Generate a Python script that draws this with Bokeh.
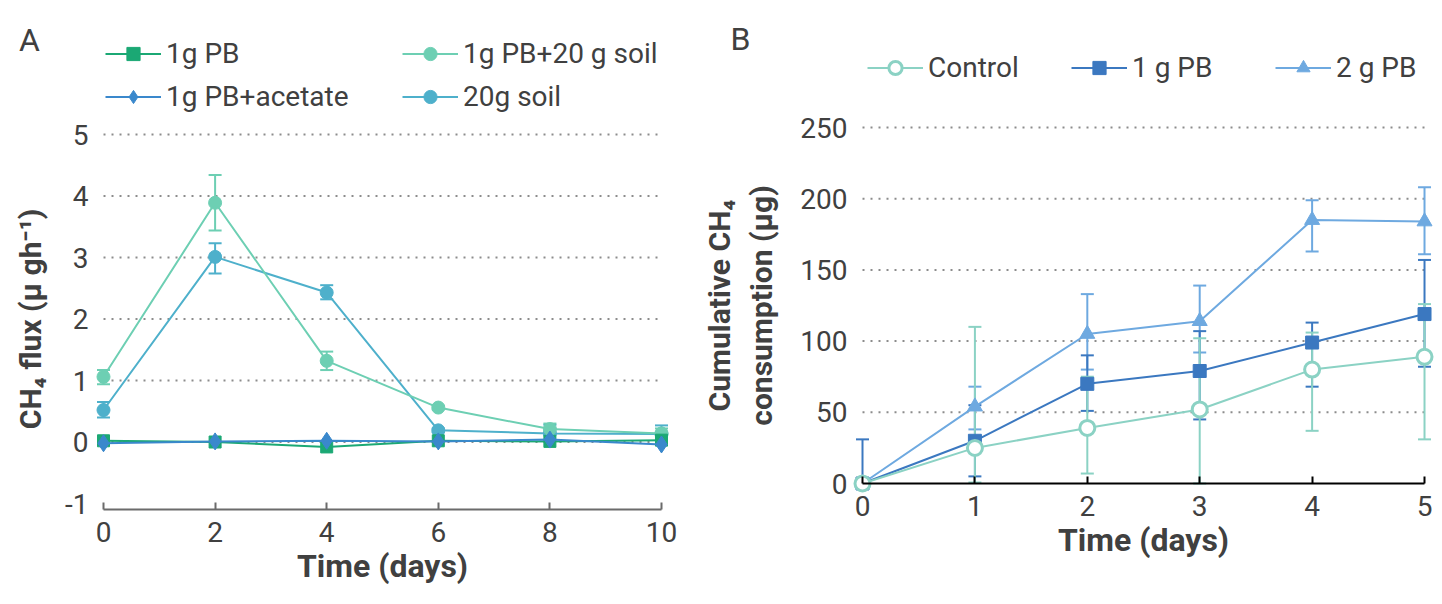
from bokeh.plotting import figure
from bokeh.models import (ColumnDataSource, Whisker, TeeHead, Legend, LegendItem,
                          Label, FixedTicker, Range1d)
from bokeh.layouts import row
from bokeh.embed import file_html
from bokeh.resources import INLINE

FONT = "Roboto"
TXT = "#404040"

# ---------------- Panel A data ----------------
days_a = [0, 2, 4, 6, 8, 10]
ticks_a_y = [-1, 0, 1, 2, 3, 4, 5]
grid_a = [0, 1, 2, 3, 4, 5]

pb1g = [0.02, 0.00, -0.08, 0.02, 0.01, 0.03]
pb1g_acetate = [-0.02, 0.01, 0.02, 0.01, 0.04, -0.04]
pb1g_soil = [1.06, 3.89, 1.32, 0.56, 0.21, 0.14]
pb1g_soil_lo = [0.94, 3.44, 1.17, 0.53, 0.12, 0.06]
pb1g_soil_hi = [1.17, 4.34, 1.47, 0.59, 0.30, 0.22]
soil20 = [0.52, 3.01, 2.43, 0.19, 0.14, 0.13]
soil20_lo = [0.40, 2.74, 2.32, 0.16, 0.03, 0.00]
soil20_hi = [0.65, 3.23, 2.55, 0.22, 0.28, 0.27]

# ---------------- Panel B data ----------------
days_b = [0, 1, 2, 3, 4, 5]
ticks_b_y = [0, 50, 100, 150, 200, 250]
grid_b = [50, 100, 150, 200, 250]

control = [0, 25, 39, 52, 80, 89]
control_lo = [0, 0.7, 7, 0, 37, 31]
control_hi = [0, 110, 75, 102, 106, 126]
pb_1 = [0, 30, 70, 79, 99, 119]
pb_1_lo = [0, 5, 51, 45, 68, 82]
pb_1_hi = [31, 55, 90, 107, 113, 157]
pb_2 = [0, 54, 105, 114, 185, 184]
pb_2_lo = [0, 38, 80, 92, 163, 161]
pb_2_hi = [0, 68, 133, 139, 199, 208]

C_PB = "#1ba874"
C_ACE = "#3a88cc"
C_PBSOIL = "#6dcfb3"
C_SOIL = "#4eb0cb"
C_CTRL = "#8bd2c4"
C_B1 = "#3b78c0"
C_B2 = "#6ea9e0"


def style_axes(p, axis_color, axis_width):
    ax = p.xaxis[0]
    ax.axis_line_color = axis_color
    ax.axis_line_width = axis_width
    ax.major_tick_line_color = axis_color
    ax.major_tick_line_width = axis_width
    ax.major_tick_in = 7
    ax.major_tick_out = 0
    ax.minor_tick_line_color = None
    ax.major_label_text_font = FONT
    ax.major_label_text_font_size = "28px"
    ax.major_label_text_color = TXT
    ax.major_label_standoff = 12
    ax.axis_label_text_font = FONT
    ax.axis_label_text_font_size = "32px"
    ax.axis_label_text_font_style = "bold"
    ax.axis_label_text_color = TXT
    ax.axis_label_standoff = 2
    ay = p.yaxis[0]
    ay.axis_line_color = None
    ay.major_tick_line_color = None
    ay.minor_tick_line_color = None
    ay.major_tick_in = 0
    ay.major_tick_out = 0
    ay.major_label_text_font = FONT
    ay.major_label_text_font_size = "28px"
    ay.major_label_text_color = TXT
    ay.major_label_standoff = 4
    ay.axis_label_text_font = FONT
    ay.axis_label_text_font_size = "30px"
    ay.axis_label_text_font_style = "bold"
    ay.axis_label_text_color = TXT
    ay.axis_label_standoff = 14
    p.xgrid.visible = False
    p.ygrid.visible = False
    p.outline_line_color = None


def add_whisker(p, x, lo, hi, color):
    keep = [i for i in range(len(x)) if hi[i] > lo[i]]
    src = ColumnDataSource(dict(x=[x[i] for i in keep],
                                lo=[lo[i] for i in keep],
                                hi=[hi[i] for i in keep]))
    w = Whisker(source=src, base="x", lower="lo", upper="hi",
                line_color=color, line_width=2,
                upper_head=TeeHead(size=13, line_color=color, line_width=2),
                lower_head=TeeHead(size=13, line_color=color, line_width=2))
    p.add_layout(w)


leg_common = dict(padding=0, margin=0, glyph_width=56, glyph_height=33,
                  label_height=33, label_standoff=5,
                  label_text_font=FONT, label_text_font_size="28px",
                  label_text_color=TXT, background_fill_alpha=0,
                  border_line_color=None)

# ================= Panel A =================
# frame fills the whole figure; axes are placed at fixed data locations
pA = figure(width=700, height=604, output_backend="svg", toolbar_location=None,
            x_range=Range1d(-1.846, 10.699), y_range=Range1d(-2.642, 7.179),
            min_border=0)
style_axes(pA, "#6b6b6b", 2)
pA.xaxis.ticker = FixedTicker(ticks=days_a)
pA.xaxis.bounds = (days_a[0], days_a[-1])
pA.xaxis.fixed_location = -1.1
pA.yaxis.ticker = FixedTicker(ticks=ticks_a_y)
pA.yaxis.bounds = (ticks_a_y[0], ticks_a_y[-1])
pA.yaxis.fixed_location = -0.197
pA.yaxis.major_label_overrides = {-1: "-1"}
pA.xaxis.axis_label = "Time (days)"
pA.yaxis.axis_label = "CH\u2084 flux (\u03bc gh\u207b\u00b9)"

pA.segment(x0=days_a[0], x1=days_a[-1], y0=grid_a, y1=grid_a,
           line_color="#8c8c8c", line_width=2, line_dash="2 6", level="underlay")

add_whisker(pA, days_a, soil20_lo, soil20_hi, C_SOIL)
add_whisker(pA, days_a, pb1g_soil_lo, pb1g_soil_hi, C_PBSOIL)

l_soil = pA.line(days_a, soil20, line_color=C_SOIL, line_width=2)
s_soil = pA.scatter(days_a, soil20, marker="circle", size=13, color=C_SOIL)
l_pbs = pA.line(days_a, pb1g_soil, line_color=C_PBSOIL, line_width=2)
s_pbs = pA.scatter(days_a, pb1g_soil, marker="circle", size=13, color=C_PBSOIL)
l_pb = pA.line(days_a, pb1g, line_color=C_PB, line_width=2)
s_pb = pA.scatter(days_a, pb1g, marker="square", size=12, color=C_PB)
l_ace = pA.line(days_a, pb1g_acetate, line_color=C_ACE, line_width=2)
s_ace = pA.scatter(days_a, pb1g_acetate, marker="diamond", size=17, color=C_ACE)

legA1 = Legend(items=[LegendItem(label="1g PB", renderers=[l_pb, s_pb]),
                      LegendItem(label="1g PB+acetate", renderers=[l_ace, s_ace])],
               location=(105, 491), orientation="vertical", spacing=10, **leg_common)
legA2 = Legend(items=[LegendItem(label="1g PB+20 g soil", renderers=[l_pbs, s_pbs]),
                      LegendItem(label="20g soil", renderers=[l_soil, s_soil])],
               location=(402, 491), orientation="vertical", spacing=10, **leg_common)
pA.add_layout(legA1)
pA.add_layout(legA2)
pA.add_layout(Label(x=29, y=565, x_units="screen", y_units="screen", text="A",
                    text_font=FONT, text_font_size="32px", text_color=TXT,
                    text_align="center", text_baseline="middle"))

# ================= Panel B =================
pB = figure(width=742, height=604, output_backend="svg", toolbar_location=None,
            x_range=Range1d(-1.4413, 5.160), y_range=Range1d(-84.97, 339.2),
            min_border=0)
style_axes(pB, "#000000", 2)
pB.xaxis.ticker = FixedTicker(ticks=days_b)
pB.xaxis.bounds = (days_b[0], days_b[-1])
pB.xaxis.fixed_location = 0
pB.yaxis.ticker = FixedTicker(ticks=ticks_b_y)
pB.yaxis.bounds = (ticks_b_y[0], ticks_b_y[-1])
pB.yaxis.fixed_location = -0.0979
pB.yaxis.axis_label_standoff = 18
pB.xaxis.axis_label = "Time (days)"
pB.yaxis.axis_label = "Cumulative CH\u2084\nconsumption (\u03bcg)"

pB.segment(x0=days_b[0], x1=days_b[-1], y0=grid_b, y1=grid_b,
           line_color="#8c8c8c", line_width=2, line_dash="2 6", level="underlay")

add_whisker(pB, days_b, pb_2_lo, pb_2_hi, C_B2)
add_whisker(pB, days_b, pb_1_lo, pb_1_hi, C_B1)
add_whisker(pB, days_b, control_lo, control_hi, C_CTRL)

l_b2 = pB.line(days_b, pb_2, line_color=C_B2, line_width=2)
s_b2 = pB.scatter(days_b, pb_2, marker="triangle", size=15, color=C_B2)
l_b1 = pB.line(days_b, pb_1, line_color=C_B1, line_width=2)
s_b1 = pB.scatter(days_b, pb_1, marker="square", size=13, color=C_B1)
l_c = pB.line(days_b, control, line_color=C_CTRL, line_width=2)
s_c = pB.scatter(days_b, control, marker="circle", size=15, fill_color="white",
                 line_color=C_CTRL, line_width=3)

legB = Legend(items=[LegendItem(label="Control", renderers=[l_c, s_c]),
                     LegendItem(label="1 g PB", renderers=[l_b1, s_b1]),
                     LegendItem(label="2 g PB", renderers=[l_b2, s_b2])],
              location=(167, 520), orientation="horizontal", spacing=5,
              label_width=138, **leg_common)
pB.add_layout(legB)
pB.add_layout(Label(x=40, y=566, x_units="screen", y_units="screen", text="B",
                    text_font=FONT, text_font_size="32px", text_color=TXT,
                    text_align="center", text_baseline="middle"))

layout = row(pA, pB)
open("out.html", "w").write(file_html(layout, INLINE))
